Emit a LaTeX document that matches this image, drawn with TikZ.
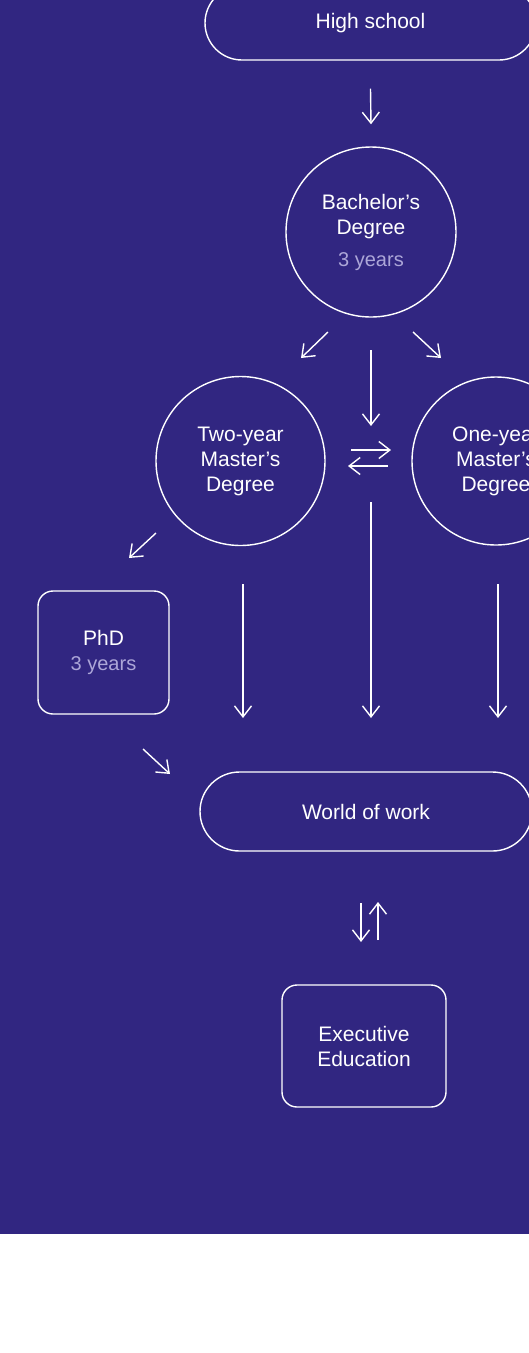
\documentclass[tikz,border=0pt]{standalone}
\usepackage{fontspec}
\setmainfont{Liberation Sans}
\usetikzlibrary{arrows.meta}
\definecolor{bg}{RGB}{49,38,129}
\definecolor{lav}{RGB}{172,166,216}
\newcommand{\yrs}[1]{{\color{lav}\fontsize{20}{24}\selectfont #1}}
\begin{document}
\begin{tikzpicture}[x=1pt,y=-1pt,
  every node/.style={text=white, font=\fontsize{21}{25}\selectfont, align=center, inner sep=0pt},
  pill/.style={draw=white, line width=1.4pt, rounded corners=39.5pt, minimum height=79pt},
  circ/.style={circle, draw=white, line width=1.4pt},
  rbox/.style={draw=white, line width=1.4pt, rounded corners=15pt},
  arr/.style={draw=white, line width=1.4pt, -{Straight Barb[length=11pt,width=17pt]}}]
\useasboundingbox (0,0) rectangle (529,1353);
\fill[bg] (0,0) rectangle (529,1234);

\node[pill, minimum width=331pt, minimum height=74pt, rounded corners=37pt] (hs) at (370.5,23) {High school};
\node[circ, minimum size=170pt] (ba) at (371,232) {Bachelor’s\\Degree\\[7pt]\yrs{3 years}};
\node[circ, minimum size=169pt] (tw) at (240.5,461) {Two-year\\Master’s\\Degree};
\node[circ, minimum size=168pt] (on) at (496,461) {One-year\\Master’s\\Degree};
\node[rbox, minimum width=131pt, minimum height=123pt] (phd) at (103.5,652.5) {PhD\\\yrs{3 years}};
\node[pill, minimum width=332pt] (ww) at (366,811.5) {World of work};
\node[rbox, minimum width=164pt, minimum height=122pt] (ee) at (364,1046) {Executive\\Education};

\coordinate (a1s) at (328,332); \coordinate (a1e) at (301,358);
\coordinate (a2s) at (413,332); \coordinate (a2e) at (441,358);
\coordinate (a3s) at (371,350); \coordinate (a3e) at (371,426);
\coordinate (b1s) at (351,450); \coordinate (b1e) at (391,450);
\coordinate (b2s) at (388,466); \coordinate (b2e) at (348,466);
\coordinate (c1s) at (371,502); \coordinate (c1e) at (371,718);
\coordinate (c2s) at (243,584); \coordinate (c2e) at (243,718);
\coordinate (c3s) at (498,584); \coordinate (c3e) at (498,718);
\coordinate (p1s) at (156,533); \coordinate (p1e) at (129,558);
\coordinate (p2s) at (143,749); \coordinate (p2e) at (170,774);
\coordinate (w1s) at (361,903); \coordinate (w1e) at (361,942);
\coordinate (w2s) at (378,940); \coordinate (w2e) at (378,902);

\draw[arr] ([yshift=-28pt]hs.south) -- ([yshift=22pt]ba.north);
\draw[arr] (a1s) -- (a1e);
\draw[arr] (a2s) -- (a2e);
\draw[arr] (a3s) -- (a3e);
\draw[arr] (b1s) -- (b1e);
\draw[arr] (b2s) -- (b2e);
\draw[arr] (c1s) -- (c1e);
\draw[arr] (c2s) -- (c2e);
\draw[arr] (c3s) -- (c3e);
\draw[arr] (p1s) -- (p1e);
\draw[arr] (p2s) -- (p2e);
\draw[arr] (w1s) -- (w1e);
\draw[arr] (w2s) -- (w2e);
\end{tikzpicture}
\end{document}
